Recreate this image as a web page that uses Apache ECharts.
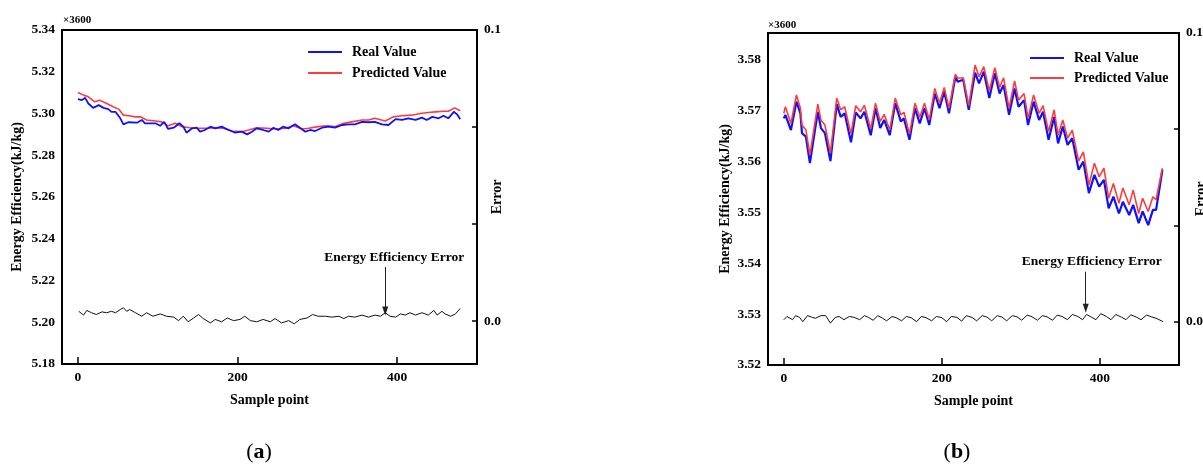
<!DOCTYPE html>
<html>
<head>
<meta charset="utf-8">
<script src="https://cdn.jsdelivr.net/npm/echarts@6/dist/echarts.min.js"></script>
<style>
  html, body { margin: 0; padding: 0; background: #fff; }
  #chart { width: 1203px; height: 465px; }
</style>
</head>
<body>
<div id="chart"></div>
<script>
// ---- Panel (a): energy efficiency, real vs predicted (x3600 kJ/kg) ----
const aRealX = [0,5,9,13,19,26,32,38,42,47,53,57,63,74,80,84,97,103,108,113,120,127,132,136,143,149,153,159,166,172,180,189,197,205,212,218,224,232,239,245,251,257,264,272,278,285,291,297,306,314,322,331,339,347,356,364,372,381,389,398,406,414,423,431,437,444,452,458,464,471,475,479];
const aRealY = [5.3069,5.3064,5.3075,5.3048,5.3027,5.3040,5.3027,5.3021,5.3008,5.3008,5.2977,5.2948,5.2958,5.2956,5.2969,5.2953,5.2953,5.2941,5.2960,5.2926,5.2932,5.2953,5.2937,5.2908,5.2929,5.2932,5.2913,5.2921,5.2937,5.2929,5.2937,5.2921,5.2908,5.2913,5.2900,5.2913,5.2929,5.2921,5.2913,5.2932,5.2921,5.2937,5.2929,5.2948,5.2932,5.2913,5.2921,5.2916,5.2932,5.2937,5.2932,5.2945,5.2948,5.2948,5.2960,5.2958,5.2960,5.2948,5.2945,5.2973,5.2969,5.2977,5.2969,5.2980,5.2969,5.2984,5.2977,5.2989,5.2977,5.3008,5.2996,5.2973];
const aPredX = [0,7,13,21,27,36,44,51,57,64,72,78,86,97,105,113,122,130,140,151,161,172,182,193,205,214,224,237,247,260,270,281,289,301,312,322,333,343,356,364,372,385,395,406,418,429,439,448,458,464,472,479];
const aPredY = [5.3101,5.3088,5.3080,5.3056,5.3064,5.3048,5.3032,5.3021,5.2992,5.2989,5.2984,5.2984,5.2969,5.2964,5.2960,5.2941,5.2953,5.2937,5.2932,5.2929,5.2929,5.2932,5.2929,5.2916,5.2913,5.2921,5.2932,5.2929,5.2926,5.2929,5.2941,5.2926,5.2929,5.2937,5.2941,5.2937,5.2953,5.2960,5.2969,5.2969,5.2977,5.2964,5.2984,5.2989,5.2992,5.3000,5.3005,5.3008,5.3011,5.3011,5.3027,5.3013];
const aErrX = [1,7,11,17,23,30,36,42,47,53,57,61,65,72,80,86,94,103,111,120,126,132,138,145,151,157,166,172,180,187,195,203,209,216,224,232,241,247,255,264,271,278,287,294,301,310,318,327,333,339,347,356,364,372,379,385,391,398,404,410,416,423,431,439,446,450,456,460,467,473,479];
const aErrY = [0.0034,0.0021,0.0037,0.0029,0.0023,0.0032,0.0029,0.0034,0.0029,0.0040,0.0046,0.0034,0.0040,0.0029,0.0017,0.0029,0.0017,0.0025,0.0017,0.0014,0.0002,0.0017,-0.0002,0.0011,0.0023,0.0009,-0.0006,0.0006,-0.0002,0.0011,0.0002,0.0006,0.0017,0.0002,-0.0002,0.0006,-0.0002,0.0009,-0.0006,0.0002,-0.0009,0.0006,0.0011,0.0023,0.0017,0.0017,0.0014,0.0017,0.0009,0.0017,0.0014,0.0021,0.0014,0.0021,0.0017,0.0029,0.0017,0.0014,0.0025,0.0021,0.0029,0.0021,0.0029,0.0021,0.0037,0.0021,0.0034,0.0025,0.0017,0.0025,0.0044];

// ---- Panel (b) ----
const bRealX = [0,2,9,16,21,23,28,33,43,47,52,59,67,72,77,85,91,97,102,110,116,122,127,134,141,148,152,159,166,172,178,184,191,197,203,209,217,220,227,234,242,247,253,260,267,273,278,285,292,297,304,309,316,323,328,335,342,347,353,359,365,373,379,386,393,399,405,411,417,424,429,437,442,449,454,461,467,471,479];
const bRealY = [3.5685,3.5692,3.5662,3.5718,3.5695,3.5656,3.5649,3.5597,3.5698,3.5666,3.5656,3.5601,3.5713,3.5688,3.5695,3.5638,3.5697,3.5685,3.5698,3.5652,3.5705,3.5666,3.5682,3.5652,3.5715,3.5679,3.5685,3.5643,3.5705,3.5675,3.5705,3.5672,3.5734,3.5705,3.5738,3.5695,3.5767,3.5757,3.5761,3.5702,3.5775,3.5754,3.5777,3.5725,3.5774,3.5734,3.5751,3.5692,3.5744,3.5708,3.5721,3.5672,3.5718,3.5682,3.5698,3.5643,3.5688,3.5636,3.5669,3.5633,3.5646,3.5584,3.5600,3.5538,3.5574,3.5551,3.5564,3.5508,3.5531,3.5498,3.5521,3.5495,3.5515,3.5479,3.5502,3.5475,3.5505,3.5505,3.5584];
const bPredX = bRealX;
const bPredY = [3.5695,3.5708,3.5675,3.5731,3.5705,3.5672,3.5662,3.5613,3.5713,3.5682,3.5672,3.5617,3.5725,3.5702,3.5708,3.5654,3.5710,3.5698,3.5711,3.5664,3.5715,3.5679,3.5693,3.5662,3.5725,3.5692,3.5697,3.5654,3.5715,3.5687,3.5715,3.5682,3.5744,3.5715,3.5746,3.5705,3.5772,3.5764,3.5765,3.5710,3.5790,3.5767,3.5787,3.5739,3.5785,3.5746,3.5765,3.5705,3.5759,3.5721,3.5734,3.5685,3.5731,3.5695,3.5710,3.5659,3.5702,3.5652,3.5682,3.5646,3.5662,3.5601,3.5619,3.5554,3.5597,3.5570,3.5587,3.5528,3.5557,3.5518,3.5548,3.5515,3.5544,3.5498,3.5528,3.5502,3.5531,3.5525,3.5587];
const bErrX = [0,4,11,15,20,24,30,36,40,47,53,59,65,70,76,83,89,96,102,107,113,119,125,130,137,142,149,155,161,168,174,180,187,193,200,206,212,219,225,231,238,244,251,257,263,270,276,282,289,295,301,308,314,321,327,333,340,346,352,359,365,372,378,383,389,395,401,408,414,420,427,433,439,446,452,459,465,471,480];
const bErrY = [0.0007,0.0018,0.0007,0.0021,0.0015,0.0000,0.0021,0.0015,0.0012,0.0021,0.0021,-0.0005,0.0015,0.0018,0.0007,0.0018,0.0015,0.0007,0.0021,0.0015,0.0005,0.0021,0.0012,0.0003,0.0018,0.0014,0.0003,0.0018,0.0014,0.0000,0.0018,0.0014,0.0003,0.0018,0.0014,0.0000,0.0018,0.0015,0.0002,0.0021,0.0015,0.0003,0.0021,0.0016,0.0003,0.0021,0.0016,0.0003,0.0021,0.0017,0.0005,0.0023,0.0017,0.0005,0.0021,0.0017,0.0005,0.0023,0.0018,0.0007,0.0025,0.0018,0.0007,0.0025,0.0016,0.0007,0.0028,0.0018,0.0007,0.0025,0.0016,0.0007,0.0024,0.0016,0.0007,0.0023,0.0017,0.0012,0.0000];

// ---- Axis ticks and labels ----
const xTicks = [0, 200, 400];
const aYTicks = [5.18, 5.20, 5.22, 5.24, 5.26, 5.28, 5.30, 5.32, 5.34];
const bYTicks = [3.52, 3.53, 3.54, 3.55, 3.56, 3.57, 3.58];
const errTicks = [0, 0.0333, 0.0667, 0.1];
const errLabels = [0, 0.1];
const arrowAt = [385, 382];

const FONT = "'Liberation Serif', 'Times New Roman', serif";
const BLACK = '#000';
const zip = (xs, ys) => xs.map((x, i) => [x, ys[i]]);

const baseText = { fontFamily: FONT, fontWeight: 'bold', color: BLACK };

function xAxisFor(gridIndex) {
  return {
    type: 'value', gridIndex, min: -20, max: 500,
    axisLine: { show: true, onZero: false, lineStyle: { color: BLACK, width: 2 } },
    axisTick: { show: true, inside: true, length: 7, customValues: xTicks, lineStyle: { color: BLACK, width: 1.5 } },
    axisLabel: { ...baseText, fontSize: 13.5, margin: 7, customValues: xTicks },
    splitLine: { show: false },
    name: 'Sample point', nameLocation: 'middle', nameGap: 29, nameMoveOverlap: false,
    nameTextStyle: { ...baseText, fontSize: 14 }
  };
}

function leftAxisFor(gridIndex, min, max, ticks, gap) {
  return {
    type: 'value', gridIndex, position: 'left', min, max,
    axisLine: { show: true, onZero: false, lineStyle: { color: BLACK, width: 2 } },
    axisTick: { show: false },
    axisLabel: { ...baseText, fontSize: 13.5, margin: 7, customValues: ticks, formatter: v => v.toFixed(2) },
    splitLine: { show: false },
    name: 'Energy Efficiency(kJ/kg)', nameLocation: 'middle', nameRotate: 90, nameGap: gap, nameMoveOverlap: false,
    nameTextStyle: { ...baseText, fontSize: 14 }
  };
}

function rightAxisFor(gridIndex, min, gap) {
  return {
    type: 'value', gridIndex, position: 'right', min, max: 0.1,
    axisLine: { show: true, onZero: false, lineStyle: { color: BLACK, width: 2 } },
    axisTick: { show: true, inside: true, length: 5, customValues: errTicks, lineStyle: { color: BLACK, width: 1.5 } },
    axisLabel: { ...baseText, fontSize: 13.5, margin: 7, customValues: errLabels, formatter: v => v.toFixed(1) },
    splitLine: { show: false },
    name: 'Error', nameLocation: 'middle', nameRotate: 90, nameGap: gap, nameMoveOverlap: false,
    nameTextStyle: { ...baseText, fontSize: 14 }
  };
}

function errorSeries(xAxisIndex, yAxisIndex, xs, ys, arrowX, top, bottom, shift) {
  return {
    name: 'Energy Efficiency Error', type: 'line', xAxisIndex, yAxisIndex,
    data: zip(xs, ys), showSymbol: false, symbol: 'none',
    lineStyle: { color: '#111', width: 1 }, z: 3,
    markLine: {
      silent: true, animation: false,
      data: [
        [ { yAxis: 0, symbol: 'none', lineStyle: { color: '#8a8a8a', width: 1, type: 'solid' }, label: { show: false } },
          { yAxis: 0, symbol: 'none' } ],
        [ { coord: [arrowX, top], symbol: 'none',
            lineStyle: { color: '#222', width: 1, type: 'solid' },
            label: { show: true, position: 'start', distance: 3, formatter: 'Energy Efficiency Error',
                     ...baseText, fontSize: 13.5, padding: [0, 0, 0, shift] } },
          { coord: [arrowX, bottom], symbol: 'triangle', symbolSize: [6, 9] } ]
      ]
    }
  };
}

function valueSeries(name, xAxisIndex, yAxisIndex, xs, ys, color, width, z) {
  return {
    name, type: 'line', xAxisIndex, yAxisIndex, data: zip(xs, ys),
    showSymbol: false, symbol: 'none', z,
    lineStyle: { color, width }, itemStyle: { color }
  };
}

function legendFor(left, top, gap) {
  return {
    left, top, orient: 'vertical', icon: 'rect', itemWidth: 34, itemHeight: 2, itemGap: gap, padding: 0,
    data: ['Real Value', 'Predicted Value'],
    textStyle: { ...baseText, fontSize: 14, padding: [0, 0, 0, 5] },
    selectedMode: false
  };
}

const chart = echarts.init(document.getElementById('chart'), null, { renderer: 'canvas' });

const gridBase = { show: true, borderColor: BLACK, borderWidth: 2, containLabel: false, outerBoundsMode: 'none' };

chart.setOption({
  animation: false,
  backgroundColor: '#fff',
  grid: [
    { ...gridBase, left: 62, top: 30, width: 415, height: 334 },
    { ...gridBase, left: 768, top: 33, width: 411, height: 332 }
  ],
  xAxis: [xAxisFor(0), xAxisFor(1)],
  yAxis: [
    leftAxisFor(0, 5.18, 5.34, aYTicks, 38),
    rightAxisFor(0, -0.0147, 13),
    leftAxisFor(1, 3.52, 3.5853, bYTicks, 36),
    rightAxisFor(1, -0.015, 15)
  ],
  legend: [legendFor(308, 45, 7), legendFor(1030, 51, 6)],
  series: [
    valueSeries('Predicted Value', 0, 0, aPredX, aPredY, '#ff3b3b', 1.6, 4),
    valueSeries('Real Value', 0, 0, aRealX, aRealY, '#1010ff', 1.8, 5),
    errorSeries(0, 1, aErrX, aErrY, arrowAt[0], 0.0186, 0.0035, 18),
    valueSeries('Real Value', 1, 2, bRealX, bRealY, '#1010ff', 2.2, 4),
    valueSeries('Predicted Value', 1, 2, bPredX, bPredY, '#ff3b3b', 1.6, 5),
    errorSeries(1, 3, bErrX, bErrY, arrowAt[1], 0.0173, 0.0047, 12)
  ],
  graphic: [
    { type: 'text', left: 63, top: 15, style: { text: '×3600', font: `bold 11px ${FONT}`, fill: BLACK } },
    { type: 'text', left: 768, top: 20, style: { text: '×3600', font: `bold 11px ${FONT}`, fill: BLACK } },
    { type: 'text', x: 259, y: 452, style: {
        text: '({b|a})', fill: BLACK, font: `22px ${FONT}`, align: 'center', verticalAlign: 'middle',
        rich: { b: { fontWeight: 'bold', fontSize: 22, fontFamily: FONT } } } },
    { type: 'text', x: 957, y: 452, style: {
        text: '({b|b})', fill: BLACK, font: `22px ${FONT}`, align: 'center', verticalAlign: 'middle',
        rich: { b: { fontWeight: 'bold', fontSize: 22, fontFamily: FONT } } } }
  ]
});
</script>
</body>
</html>
